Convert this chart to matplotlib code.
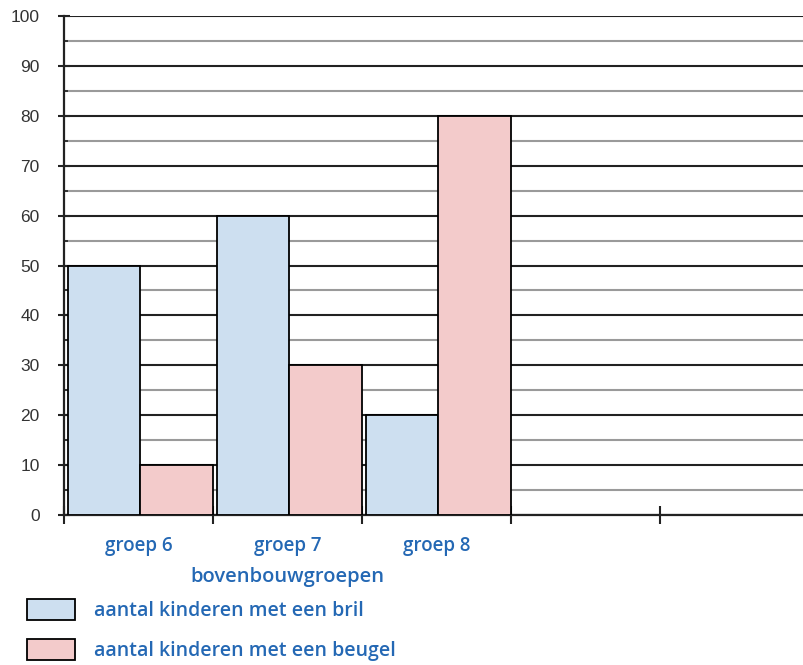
import matplotlib
matplotlib.use("Agg")
import matplotlib.pyplot as plt
import numpy as np

categories = ["groep 6", "groep 7", "groep 8", "", ""]
bril = [50, 60, 20]
beugel = [10, 30, 80]
series_labels = ["aantal kinderen met een bril", "aantal kinderen met een beugel"]
x_label = "bovenbouwgroepen"
y_ticks = list(range(0, 101, 10))

blue = "#cddff0"
pink = "#f3cbcb"
txt_blue = "#2468b4"
bfont = {"family": "Open Sans", "weight": 600}

fig = plt.figure(figsize=(8.04, 6.65), dpi=100)
ax = fig.add_axes([64/804, 1-515/665, 1-64/804, (515-16)/665])

pos = np.arange(len(bril))
b1 = ax.bar(pos + 0.028, bril, width=0.485, align="edge", color=blue,
            edgecolor="black", linewidth=1.3, zorder=3, label=series_labels[0])
b2 = ax.bar(pos + 0.513, beugel, width=0.485, align="edge", color=pink,
            edgecolor="black", linewidth=1.3, zorder=3, label=series_labels[1])

ax.set_xlim(0, (804-64)/149)
ax.set_ylim(0, 100)
ax.set_yticks(y_ticks)
ax.set_yticks(np.arange(5, 100, 10), minor=True)
ax.set_yticklabels([str(v) for v in y_ticks], fontsize=12.5, color="#333333",
                   family="Liberation Sans")
ax.grid(axis="y", which="major", color="#222222", linewidth=1.5, zorder=1)
ax.grid(axis="y", which="minor", color="#9a9a9a", linewidth=1.5, zorder=1)
ax.set_axisbelow(True)

ax.set_xticks(np.arange(0, 5))
ax.set_xticklabels([])
ax.set_xticks(np.arange(0, 5) + 0.5, minor=True)
ax.set_xticklabels(categories, minor=True, fontsize=13.5, color=txt_blue, **bfont)
ax.tick_params(axis="x", which="major", direction="inout", length=12.5, width=1.5, color="#222222")
ax.tick_params(axis="x", which="minor", length=0, pad=15)
ax.tick_params(axis="y", which="major", direction="inout", length=9, width=1.5,
               color="#222222", pad=13)
ax.tick_params(axis="y", which="minor", direction="in", length=3, width=1.2, color="#222222")

for s in ["top", "right"]:
    ax.spines[s].set_visible(False)
ax.spines["left"].set_linewidth(1.6)
ax.spines["bottom"].set_linewidth(1.6)
ax.spines["left"].set_color("#222222")
ax.spines["bottom"].set_color("#222222")

ax.text(1.5, -0.125, x_label, transform=ax.get_xaxis_transform(), ha="center", va="center",
        fontsize=14.5, color=txt_blue, **bfont)

leg = fig.legend(handles=[b1, b2], labels=series_labels, loc="upper left",
                 bbox_to_anchor=(9/804, 1-581/665), frameon=False,
                 handlelength=2.5, handleheight=1.3, labelspacing=0.95,
                 handletextpad=0.95, prop={"family": "Open Sans", "weight": 600, "size": 14})
for t in leg.get_texts():
    t.set_color(txt_blue)

fig.savefig("out.png", dpi=100)
